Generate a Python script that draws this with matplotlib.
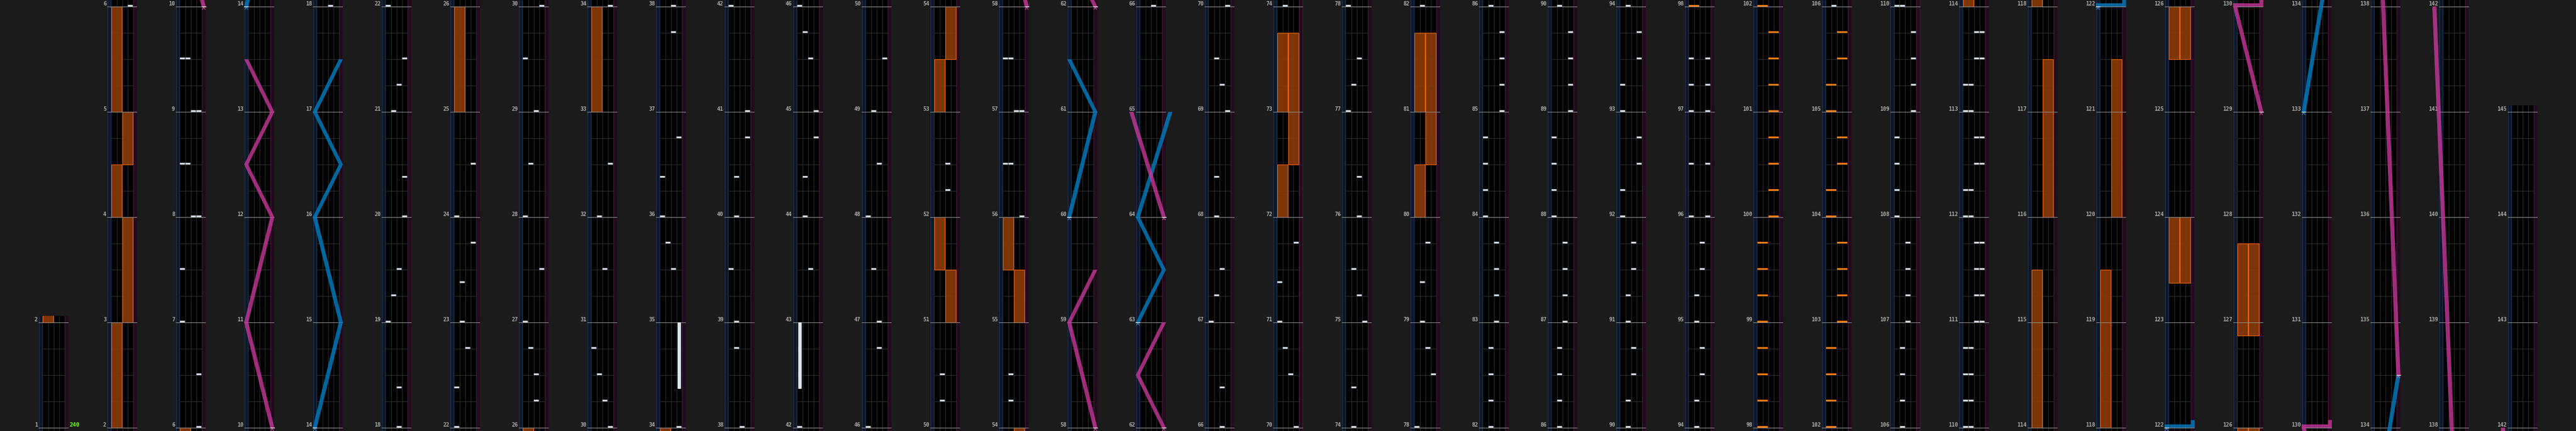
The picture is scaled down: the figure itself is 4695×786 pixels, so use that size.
import matplotlib
matplotlib.use("Agg")
import matplotlib.pyplot as plt
from matplotlib.patches import Rectangle, Polygon

# ---------------- data ----------------
col_starts = [1, 2, 6, 10, 14, 18, 22, 26, 30, 34, 38, 42, 46, 50, 54, 58, 62, 66, 70,
              74, 78, 82, 86, 90, 94, 98, 102, 106, 110, 114, 118, 122, 126, 130, 134,
              138, 142]
col_ends = [2, 6, 10, 14, 18, 22, 26, 30, 34, 38, 42, 46, 50, 54, 58, 62, 66, 70, 74,
            78, 82, 86, 90, 94, 98, 102, 106, 110, 114, 118, 122, 126, 130, 134, 138,
            142, 145]

bpm_label = "240"
bpm_measure = 1

# BT chips (measure, lane)
bt_taps = [
    (6, 'D'), (6.5, 'D'), (7, 'A'), (7.5, 'A'), (8, 'C'), (8, 'D'), (8.5, 'A'), (8.5, 'B'),
    (9, 'C'), (9, 'D'), (9.5, 'A'), (9.5, 'B'),
    (18, 'C'), (18.375, 'C'), (19, 'A'), (19.25, 'B'), (19.5, 'C'), (20, 'D'), (20.375, 'D'),
    (21, 'B'), (21.25, 'C'), (21.5, 'D'), (22, 'A'),
    (22.375, 'A'), (22.75, 'C'), (23, 'B'), (23.375, 'B'), (23.75, 'D'), (24, 'A'), (24.5, 'D'),
    (26.25, 'C'), (26.5, 'C'), (26.75, 'B'), (27, 'A'), (27.5, 'D'), (28, 'A'), (28.5, 'B'),
    (29, 'C'), (29.5, 'A'), (30, 'D'),
    (30.25, 'C'), (30.5, 'B'), (30.75, 'A'), (31.5, 'C'), (32, 'B'), (32.5, 'D'), (34, 'D'),
    (35.5, 'C'), (35.75, 'B'), (36, 'A'), (36.375, 'A'), (36.75, 'D'), (37.75, 'C'), (38, 'C'),
    (38.75, 'B'), (39, 'B'), (39.5, 'A'), (40, 'B'), (40.375, 'B'), (40.75, 'D'), (41, 'D'),
    (42, 'A'),
    (43.5, 'C'), (44, 'B'), (44.375, 'B'), (44.75, 'D'), (45, 'D'), (45.5, 'C'), (45.75, 'B'),
    (46, 'A'),
    (46.75, 'C'), (47, 'C'), (47.5, 'B'), (48, 'A'), (48.5, 'C'), (49, 'B'), (49.5, 'D'),
    (50.25, 'B'), (50.5, 'B'), (52.25, 'C'), (52.5, 'C'),
    (54.25, 'B'), (54.5, 'B'), (56, 'D'), (56.5, 'A'), (56.5, 'B'), (57, 'C'), (57, 'D'),
    (57.5, 'A'), (57.5, 'B'),
    (66, 'C'), (66.375, 'C'), (67, 'A'), (67.25, 'B'), (67.5, 'C'), (68, 'B'), (68.375, 'B'),
    (69, 'D'), (69.25, 'C'), (69.5, 'B'), (70, 'D'),
    (70.5, 'C'), (70.75, 'B'), (71, 'A'), (71.375, 'A'), (71.75, 'D'), (74, 'B'),
    (74.375, 'B'), (75, 'D'), (75.25, 'C'), (75.5, 'B'), (76, 'C'), (76.375, 'C'), (77, 'A'),
    (77.25, 'B'), (77.5, 'C'), (78, 'A'),
    (78.5, 'D'), (78.75, 'C'), (79, 'B'), (79.375, 'B'), (79.75, 'C'), (82, 'B'),
    (82.25, 'B'), (82.5, 'B'), (82.75, 'B'), (83, 'C'), (83.25, 'C'), (83.5, 'C'), (83.75, 'C'),
    (84, 'A'), (84.25, 'A'), (84.5, 'A'), (84.75, 'A'), (85, 'D'), (85.25, 'D'), (85.5, 'D'),
    (85.75, 'D'), (86, 'B'),
    (86.25, 'B'), (86.5, 'B'), (86.75, 'B'), (87, 'C'), (87.25, 'C'), (87.5, 'C'), (87.75, 'C'),
    (88, 'A'), (88.25, 'A'), (88.5, 'A'), (88.75, 'A'), (89, 'D'), (89.25, 'D'), (89.5, 'D'),
    (89.75, 'D'), (90, 'B'),
    (90.25, 'B'), (90.5, 'C'), (90.75, 'C'), (91, 'B'), (91.25, 'B'), (91.5, 'C'), (91.75, 'C'),
    (92, 'A'), (92.25, 'A'), (92.5, 'D'), (92.75, 'D'), (93, 'A'), (93.25, 'A'), (93.5, 'D'),
    (93.75, 'D'), (94, 'B'),
    (94.25, 'B'), (94.5, 'C'), (94.75, 'C'), (95, 'B'), (95.25, 'B'), (95.5, 'C'), (95.75, 'C'),
    (96, 'A'), (96, 'D'), (96.5, 'A'), (96.5, 'D'), (97, 'A'), (97, 'D'), (97.25, 'A'),
    (97.25, 'D'), (97.5, 'A'), (97.5, 'D'),
    (106, 'B'), (106.25, 'B'), (106.5, 'B'), (106.75, 'B'), (107, 'C'), (107.25, 'C'),
    (107.5, 'C'), (107.75, 'C'), (108, 'A'), (108.25, 'A'), (108.5, 'A'), (108.75, 'A'),
    (109, 'D'), (109.25, 'D'), (109.5, 'D'), (109.75, 'D'), (110, 'A'), (110, 'B'),
    (110.25, 'A'), (110.25, 'B'), (110.5, 'A'), (110.5, 'B'), (110.75, 'A'), (110.75, 'B'),
    (111, 'C'), (111, 'D'), (111.25, 'C'), (111.25, 'D'), (111.5, 'C'), (111.5, 'D'),
    (111.75, 'C'), (111.75, 'D'), (112, 'A'), (112, 'B'), (112.25, 'A'), (112.25, 'B'),
    (112.5, 'C'), (112.5, 'D'), (112.75, 'C'), (112.75, 'D'), (113, 'A'), (113, 'B'),
    (113.25, 'A'), (113.25, 'B'), (113.5, 'C'), (113.5, 'D'), (113.75, 'C'), (113.75, 'D'),
]

# BT holds (start, end, lane)
bt_holds = [(34.375, 35, 'D'), (42.375, 43, 'A')]

# FX chips (measure, side)
fx_taps = [
    (98, 'L'), (98.25, 'L'), (98.5, 'L'), (98.75, 'L'), (99, 'L'), (99.25, 'L'), (99.5, 'L'),
    (99.75, 'L'), (100, 'R'), (100.25, 'R'), (100.5, 'R'), (100.75, 'R'), (101, 'R'),
    (101.25, 'R'), (101.5, 'R'), (101.75, 'R'), (102, 'L'), (102.25, 'L'), (102.5, 'L'),
    (102.75, 'L'), (103, 'R'), (103.25, 'R'), (103.5, 'R'), (103.75, 'R'), (104, 'L'),
    (104.25, 'L'), (104.5, 'R'), (104.75, 'R'), (105, 'L'), (105.25, 'L'), (105.5, 'R'),
    (105.75, 'R'),
]

# FX holds (start, end, side)
fx_holds = [
    (2, 3, 'L'), (3, 4, 'R'), (4, 4.5, 'L'), (4.5, 5, 'R'), (5, 6, 'L'),
    (25, 26, 'L'), (33, 34, 'L'),
    (51, 51.5, 'R'), (51.5, 52, 'L'), (53, 53.5, 'L'), (53.5, 54, 'R'),
    (55, 55.5, 'R'), (55.5, 56, 'L'),
    (72, 72.5, 'L'), (72.5, 73.75, 'R'), (73, 73.75, 'L'),
    (80, 80.5, 'L'), (80.5, 81.75, 'R'), (81, 81.75, 'L'),
    (114, 115.5, 'L'), (116, 117.5, 'R'), (118, 119.5, 'L'), (120, 121.5, 'R'),
    (123.375, 124, 'L'), (123.375, 124, 'R'), (125.5, 126, 'L'), (125.5, 126, 'R'),
    (126.875, 127.75, 'L'), (126.875, 127.75, 'R'),
]

# lasers: sections of (measure, position 0=left..1=right); equal measures = slam
laser_left = [
    [(14, 0), (15, 1), (16, 0), (16.5, 1), (17, 0), (17.5, 1)],
    [(60, 0), (61, 1), (61.5, 0)],
    [(63, 0), (63.5, 1), (64, 0), (65, 1.25)],
    [(122, 0), (122, 1), (122.073, 1)],
    [(133, 0), (134.5, 1)],
]
laser_right = [
    [(10, 1), (11, 0), (12, 1), (12.5, 0), (13, 1), (13.5, 0)],
    [(58, 1), (59, 0), (59.5, 1)],
    [(62, 1), (62.5, 0), (63, 1)],
    [(64, 1), (65, -0.25)],
    [(129, 1), (130, 0), (130, 1), (130.073, 1)],
    [(134.5, 1), (142, -0.25)],
]

# ---------------- style ----------------
W, H = 4695, 786
PX = 1 / 192.0          # one pixel, in measures
BG = '#1b1b1b'
LANE_X = {'A': 7.5, 'B': 17.5, 'C': 27.5, 'D': 37.5}
FX_X = {'L': 7.5, 'R': 27.5}
SLAM_H = 6 * PX
BLUE, BLUE_A, BLUE_M = '#007cc0', 0.82, '#3a8fd0'
PINK, PINK_A, PINK_M = '#c8389a', 0.80, '#d060b0'


def lpos(p):
    return 3.75 + 47.5 * p


fig = plt.figure(figsize=(W / 100, H / 100), dpi=100, facecolor=BG)


def draw_laser(ax, pts, color, alpha, mcolor, lo, hi, clip):
    if pts[-1][0] < lo - 0.2 or pts[0][0] > hi + 0.2:
        return
    runs, slams = [], []
    cur = [pts[0]]
    for (t0, p0), (t1, p1) in zip(pts[:-1], pts[1:]):
        if t1 == t0:
            slams.append((t0, p0, p1))
            runs.append(cur)
            cur = [(t0 + SLAM_H, p1)]
        else:
            cur.append((t1, p1))
    runs.append(cur)
    for run in runs:
        if len(run) < 2:
            continue
        left = [(lpos(p) - 3.75, t) for t, p in run]
        right = [(lpos(p) + 3.75, t) for t, p in run][::-1]
        poly = Polygon(left + right, closed=True, fc=color, ec='none', alpha=alpha,
                       zorder=6)
        ax.add_patch(poly)
        poly.set_clip_path(clip)
    for t, p0, p1 in slams:
        x0 = min(lpos(p0), lpos(p1)) - 3.75
        r = Rectangle((x0, t), abs(lpos(p1) - lpos(p0)) + 7.5, SLAM_H, fc=color,
                      ec='none', alpha=alpha, zorder=6)
        ax.add_patch(r)
        r.set_clip_path(clip)
    t0, p0 = pts[0]
    xc = lpos(p0)
    ln = ax.plot([xc - 3.5, xc + 3.5], [t0, t0], color='white', lw=0.9, zorder=7)[0]
    ln.set_clip_path(clip)
    cv = ax.plot([xc - 2.5, xc, xc + 2.5], [t0 - 5 * PX, t0 - 1.5 * PX, t0 - 5 * PX],
                 color=mcolor, lw=0.8, zorder=7)[0]
    cv.set_clip_path(clip)


for k in range(len(col_starts)):
    s, e = col_starts[k], col_ends[k]
    lo, hi = s - 6 * PX, e + 12 * PX
    left_px = 70 + 125 * k
    ax = fig.add_axes([left_px / W, 0, 55 / W, (hi - lo) / PX / H])
    ax.set_xlim(0, 55)
    ax.set_ylim(lo, hi)
    ax.axis('off')
    clip = Rectangle((-1, 0), 3, 1, transform=ax.transAxes, fc='none', ec='none')

    # lane backgrounds
    ax.add_patch(Rectangle((7.5, lo), 40, hi - lo, fc='black', ec='none', zorder=0))
    ax.add_patch(Rectangle((0, lo), 7.5, hi - lo, fc='#0d1729', ec='none', zorder=0))
    ax.add_patch(Rectangle((47.5, lo), 7.5, hi - lo, fc='#220b1b', ec='none', zorder=0))
    ax.vlines([0.5, 7.0], lo, hi, color='#1d3450', lw=0.9, zorder=1)
    ax.vlines([48.0, 54.5], lo, hi, color='#47193b', lw=0.9, zorder=1)
    ax.vlines([17.5, 27.5, 37.5], lo, hi, color='#2b2b2b', lw=0.72, zorder=1)

    beats = [m + q / 4 for m in range(s - 1, e + 1) for q in (1, 2, 3)
             if lo < m + q / 4 < hi]
    ax.hlines(beats, 7.5, 47.5, color='#2e2e2e', lw=0.72, zorder=1)
    measures = list(range(s, e + 1))
    ax.hlines(measures, 0, 55, color='#8c8c8c', lw=0.8, zorder=3)
    for m in measures:
        ax.text(-1.2, m + 1.8 * PX, str(m), ha='right', va='baseline', fontsize=7,
                family='DejaVu Sans Mono', fontweight='bold', color='#a9a9a9',
                clip_on=False)
    if k == 0:
        ax.text(56.5, bpm_measure + 1.8 * PX, bpm_label, ha='left', va='baseline',
                fontsize=7.5, family='DejaVu Sans Mono', fontweight='bold',
                color='#66ff1a', clip_on=False)

    # FX holds
    for t0, t1, side in fx_holds:
        if t1 < lo or t0 > hi:
            continue
        ax.add_patch(Rectangle((FX_X[side] + 0.4, t0), 19.2, t1 - t0, fc='#8a3a06',
                               ec='#ff6a10', lw=0.8, alpha=0.92, zorder=2))
    # BT holds
    for t0, t1, lane in bt_holds:
        if t1 < lo or t0 > hi:
            continue
        ax.add_patch(Rectangle((LANE_X[lane] + 2.2, t0), 5.6, t1 - t0, fc='#cfeaf7',
                               ec='white', lw=0.7, zorder=4))
    # FX chips
    for t, side in fx_taps:
        if lo - 0.05 < t < hi:
            ax.add_patch(Rectangle((FX_X[side] + 0.5, t), 19, 3 * PX, fc='#ff7a0a',
                                   ec='none', zorder=5))
    # BT chips
    for t, lane in bt_taps:
        if lo - 0.05 < t < hi:
            ax.add_patch(Rectangle((LANE_X[lane] + 0.8, t), 8.4, 3 * PX, fc='#dfe6ee',
                                   ec='#8a929a', lw=0.35, zorder=5))
    # lasers
    for sec in laser_left:
        draw_laser(ax, sec, BLUE, BLUE_A, BLUE_M, lo, hi, clip)
    for sec in laser_right:
        draw_laser(ax, sec, PINK, PINK_A, PINK_M, lo, hi, clip)

fig.savefig('out.png', dpi=100, facecolor=BG)
